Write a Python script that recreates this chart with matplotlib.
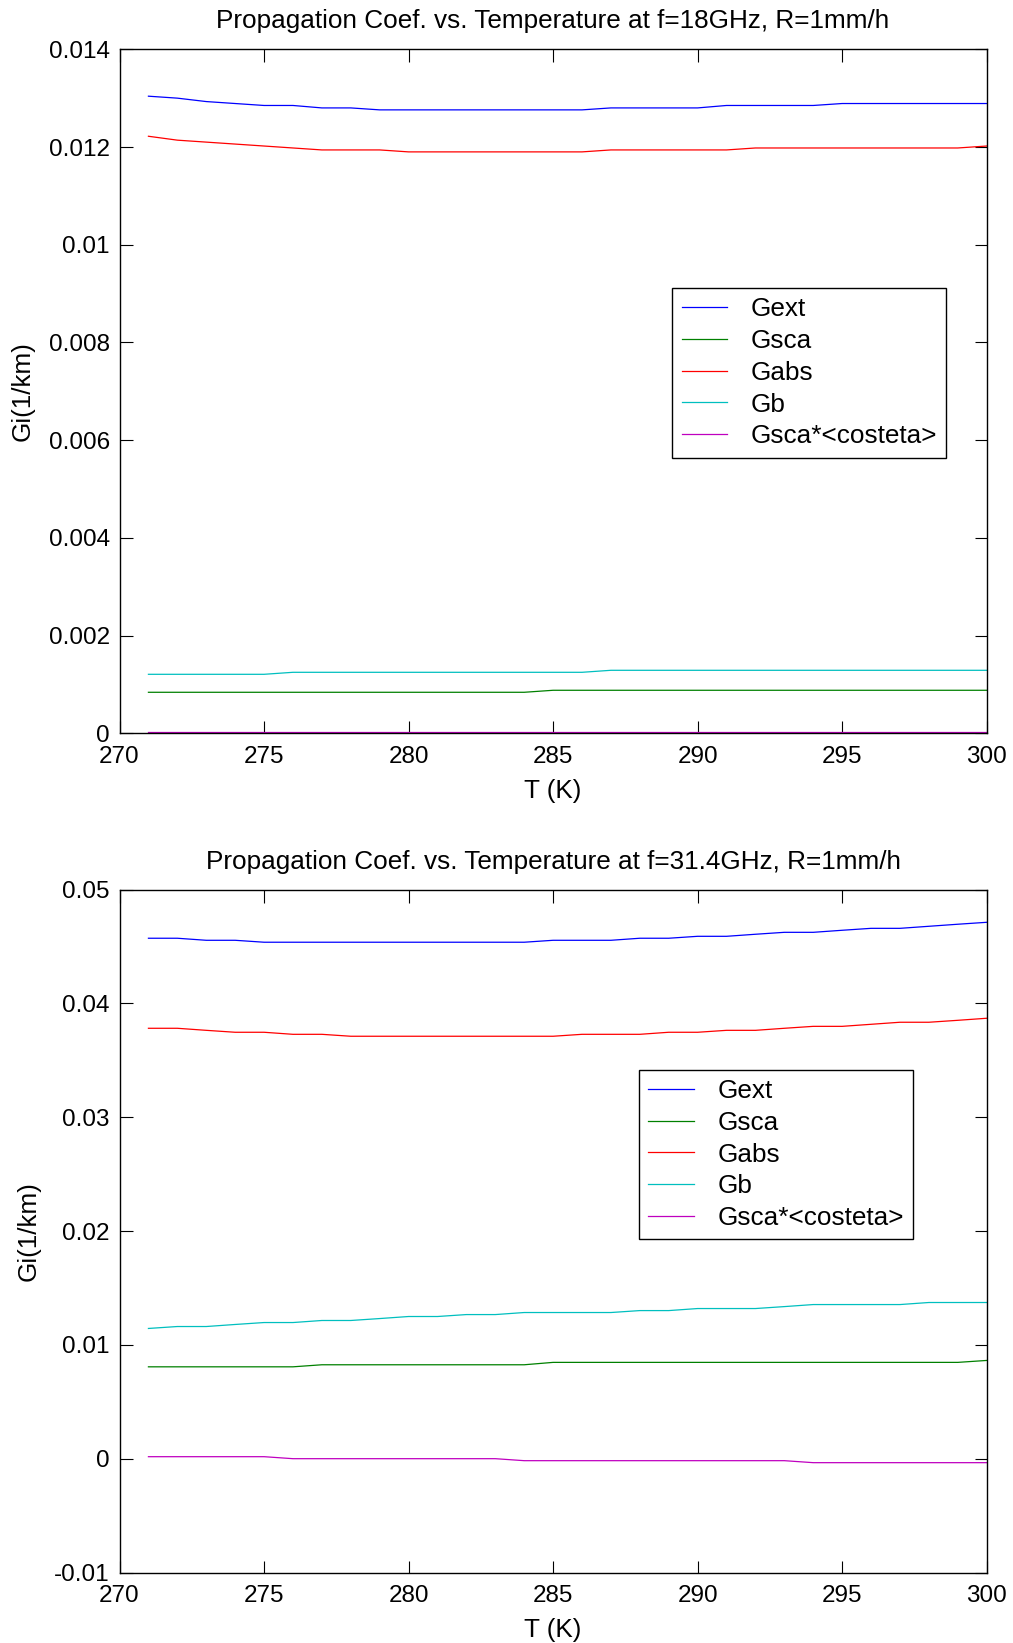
import matplotlib
matplotlib.use('Agg')
import matplotlib.pyplot as plt
from matplotlib.ticker import FuncFormatter

plt.rcParams['font.family'] = ['Liberation Sans', 'DejaVu Sans']

# temperature (K)
T = list(range(271, 301))

# f = 18 GHz, R = 1 mm/h
gext_18 = [0.01304, 0.01300, 0.01293, 0.01289, 0.01285, 0.01285, 0.01280, 0.01280,
           0.01276, 0.01276, 0.01276, 0.01276, 0.01276, 0.01276, 0.01276, 0.01276,
           0.01280, 0.01280, 0.01280, 0.01280, 0.01285, 0.01285, 0.01285, 0.01285,
           0.01289, 0.01289, 0.01289, 0.01289, 0.01289, 0.01289]
gsca_18 = [0.000839] * 14 + [0.000880] * 16
gabs_18 = [0.01222, 0.01214, 0.01210, 0.01206, 0.01202, 0.01198, 0.01194, 0.01194,
           0.01194, 0.01190, 0.01190, 0.01190, 0.01190, 0.01190, 0.01190, 0.01190,
           0.01194, 0.01194, 0.01194, 0.01194, 0.01194, 0.01198, 0.01198, 0.01198,
           0.01198, 0.01198, 0.01198, 0.01198, 0.01198, 0.01202]
gb_18 = [0.001207] * 5 + [0.001248] * 11 + [0.001289] * 14
gcos_18 = [0.00003] * 30

# f = 31.4 GHz, R = 1 mm/h
gext_31 = [0.04572, 0.04572, 0.04554, 0.04554, 0.04537, 0.04537, 0.04537, 0.04537,
           0.04537, 0.04537, 0.04537, 0.04537, 0.04537, 0.04537, 0.04554, 0.04554,
           0.04554, 0.04572, 0.04572, 0.04589, 0.04589, 0.04607, 0.04624, 0.04624,
           0.04642, 0.04659, 0.04659, 0.04677, 0.04695, 0.04712]
gsca_31 = [0.00807] * 6 + [0.00825] * 8 + [0.00846] * 15 + [0.00863]
gabs_31 = [0.03781, 0.03781, 0.03763, 0.03746, 0.03746, 0.03728, 0.03728, 0.03711,
           0.03711, 0.03711, 0.03711, 0.03711, 0.03711, 0.03711, 0.03711, 0.03728,
           0.03728, 0.03728, 0.03746, 0.03746, 0.03763, 0.03763, 0.03781, 0.03798,
           0.03798, 0.03816, 0.03834, 0.03834, 0.03851, 0.03869]
gb_31 = [0.01144, 0.01161, 0.01161, 0.01179, 0.01196, 0.01196, 0.01214, 0.01214,
         0.01231, 0.01249, 0.01249, 0.01266, 0.01266, 0.01284, 0.01284, 0.01284,
         0.01284, 0.01301, 0.01301, 0.01319, 0.01319, 0.01319, 0.01336, 0.01354,
         0.01354, 0.01354, 0.01354, 0.01372, 0.01372, 0.01372]
gcos_31 = [0.000175] * 5 + [0.0] * 8 + [-0.000175] * 10 + [-0.00035] * 7

labels = ['Gext', 'Gsca', 'Gabs', 'Gb', 'Gsca*<costeta>']
colors = ['#0000ff', '#008000', '#ff0000', '#00bfbf', '#bf00bf']

fig = plt.figure(figsize=(10.13, 16.43), dpi=100)
ax1 = fig.add_axes([0.118, 0.5537, 0.856, 0.4163])
ax2 = fig.add_axes([0.118, 0.0429, 0.856, 0.4157])

panels = [
    (ax1, [gext_18, gsca_18, gabs_18, gb_18, gcos_18],
     'Propagation Coef. vs. Temperature at f=18GHz, R=1mm/h',
     (0, 0.014), [0, 0.002, 0.004, 0.006, 0.008, 0.01, 0.012, 0.014], (0.6376, 0.651)),
    (ax2, [gext_31, gsca_31, gabs_31, gb_31, gcos_31],
     'Propagation Coef. vs. Temperature at f=31.4GHz, R=1mm/h',
     (-0.01, 0.05), [-0.01, 0, 0.01, 0.02, 0.03, 0.04, 0.05], (0.599, 0.736)),
]

fs = 17.5
fs_big = 18.8
for ax, series, title, ylim, yticks, legpos in panels:
    for ys, lab, c in zip(series, labels, colors):
        ax.plot(T, ys, color=c, lw=0.9, label=lab)
    ax.set_xlim(270, 300)
    ax.set_ylim(*ylim)
    ax.set_xticks([270, 275, 280, 285, 290, 295, 300])
    ax.set_yticks(yticks)
    ax.yaxis.set_major_formatter(FuncFormatter(lambda v, p: '%g' % round(v, 6)))
    ax.tick_params(direction='in', length=9, width=0.8, top=True, right=True,
                   labelsize=fs, pad=7)
    ax.tick_params(axis='x', pad=9)
    for s in ax.spines.values():
        s.set_linewidth(1.0)
    ax.set_title(title, fontsize=fs_big, pad=15)
    ax.set_xlabel('T (K)', fontsize=fs_big, labelpad=8)
    ax.set_ylabel('Gi(1/km)', fontsize=fs_big, labelpad=10)
    leg = ax.legend(loc='upper left', bbox_to_anchor=legpos, fontsize=fs_big,
                    fancybox=False, framealpha=1, edgecolor='black',
                    handlelength=1.75, handletextpad=0.9, labelspacing=0.3,
                    borderpad=0.35, borderaxespad=0)
    leg.get_frame().set_linewidth(1.0)

fig.savefig('out.png', dpi=100)
